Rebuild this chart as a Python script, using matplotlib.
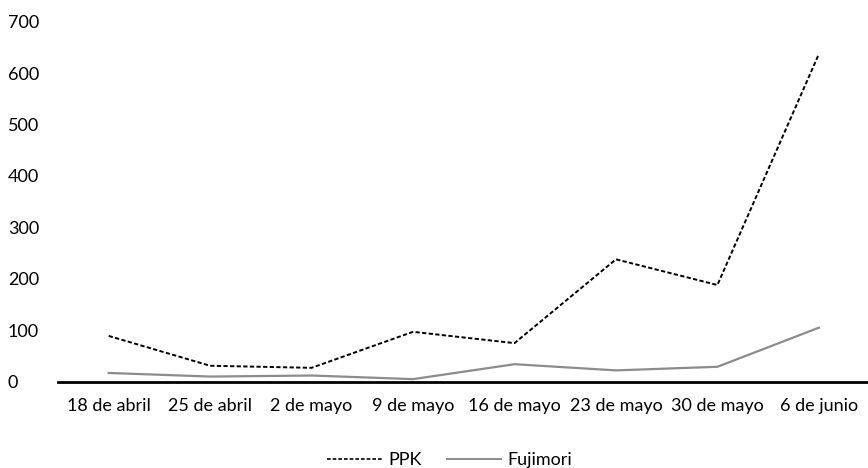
import matplotlib.pyplot as plt
from matplotlib.lines import Line2D

plt.rcParams['font.family'] = ['Lato', 'DejaVu Sans']

fechas = ['18 de abril', '25 de abril', '2 de mayo', '9 de mayo',
          '16 de mayo', '23 de mayo', '30 de mayo', '6 de junio']
ppk = [89, 31, 27, 97, 75, 238, 188, 637]
fujimori = [17, 10, 12, 5, 34, 22, 29, 105]

fig = plt.figure(figsize=(8.68, 4.68), dpi=100)
ax = fig.add_axes([0.0668, 0.1844, 0.935, 0.7692])

x = range(len(fechas))
ax.plot(x, ppk, color='black', linewidth=1.4, linestyle=(0, (2.2, 1.2)), label='PPK')
ax.plot(x, fujimori, color='#8c8c8c', linewidth=1.6, label='Fujimori')

ax.set_xlim(-0.5, len(fechas) - 0.5)
ax.set_ylim(0, 700)
ax.set_yticks(range(0, 701, 100))
ax.set_xticks(list(x))
ax.set_xticklabels(fechas)

for side in ['top', 'right', 'left']:
    ax.spines[side].set_visible(False)
ax.spines['bottom'].set_linewidth(2)
ax.spines['bottom'].set_color('black')
ax.tick_params(axis='both', length=0, labelsize=13, colors='#000000')
ax.tick_params(axis='x', pad=12)
ax.tick_params(axis='y', pad=36)
for lbl in ax.get_yticklabels():
    lbl.set_horizontalalignment('left')

handles = [Line2D([], [], color='black', linewidth=1.2, linestyle=(0, (2.2, 1.2))),
           Line2D([], [], color='#8c8c8c', linewidth=1.4)]
fig.legend(handles, ['PPK', 'Fujimori'], loc='center', bbox_to_anchor=(0.518, 0.017),
           ncol=2, frameon=False, fontsize=13, handlelength=3.0, columnspacing=1.4,
           handletextpad=0.35)

fig.savefig('out.png', dpi=100)
